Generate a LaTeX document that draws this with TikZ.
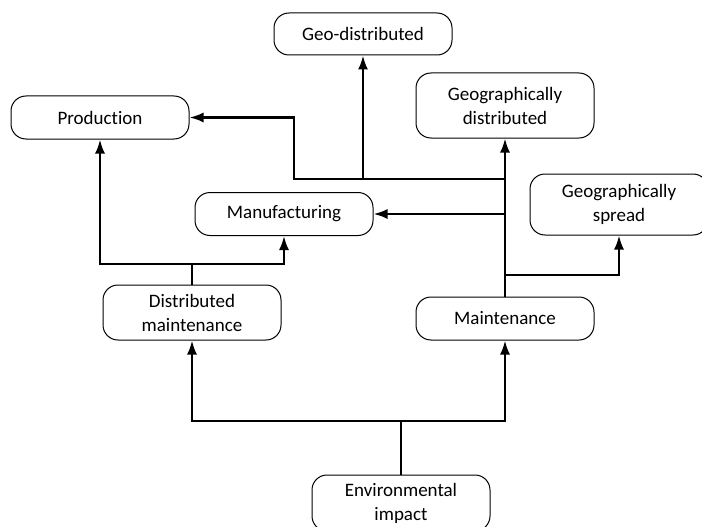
\documentclass[tikz,border=0pt]{standalone}
\usepackage{fontspec}
\setmainfont{Carlito}[Ligatures=NoCommon]
\usepackage{tikz}
\usetikzlibrary{calc}
\usetikzlibrary{arrows.meta}
\tikzset{rbox/.style={draw,line width=1pt,rounded corners=15pt,minimum width=178pt,align=center,inner sep=2pt}}
\tikzset{conn/.style={-{Latex[length=14pt,width=10pt]}}}

\begin{document}
\begin{tikzpicture}[x=1pt,y=-1pt,font=\fontsize{19}{24}\selectfont,line width=2.2pt]
	\useasboundingbox (0,0) rectangle (702,527);
	\node[rbox,minimum height=42pt] (geo) at (363,34) {Geo-distributed};
	\node[rbox,minimum height=43pt] (production) at (100,117.5) {Production};
	\node[rbox,minimum height=65pt] (geodist) at (505,105.5) {Geographically\\distributed};
	\node[rbox,minimum height=43pt] (manufacturing) at (284,214) {Manufacturing};
	\node[rbox,minimum height=61pt] (spread) at (619,204.5) {Geographically\\spread};
	\node[rbox,minimum height=55pt] (distmaint) at (192,312.5) {Distributed\\maintenance};
	\node[rbox,minimum height=43pt] (maintenance) at (505,318.5) {Maintenance};
	\node[rbox,minimum height=56pt] (envimpact) at (401,503) {Environmental\\impact};
	\coordinate (envjoin) at (401,421);
	\coordinate (dmjoin) at (192,264);
	\coordinate (prodjoin) at (505,179);
	\coordinate (prodbend) at (294,179);
	\coordinate (geojoin) at (363,179);
	\coordinate (manjoin) at (505,214);
	\coordinate (spreadjoin) at (505,275);
	\draw (envimpact)--(envjoin);
	\draw[conn] (envjoin)-|(distmaint);
	\draw[conn] (envjoin)-|(maintenance);
	\draw (distmaint)--(dmjoin);
	\draw[conn] (dmjoin)-|(production);
	\draw[conn] (dmjoin)-|(manufacturing);
	\draw[conn] (maintenance)--(geodist);
	\draw[conn] (prodjoin)--(prodbend)|-(production);
	\draw[conn] (geojoin)--(geo);
	\draw[conn] (manjoin)--(manufacturing);
	\draw[conn] (spreadjoin)-|(spread);
\end{tikzpicture}
\end{document}
